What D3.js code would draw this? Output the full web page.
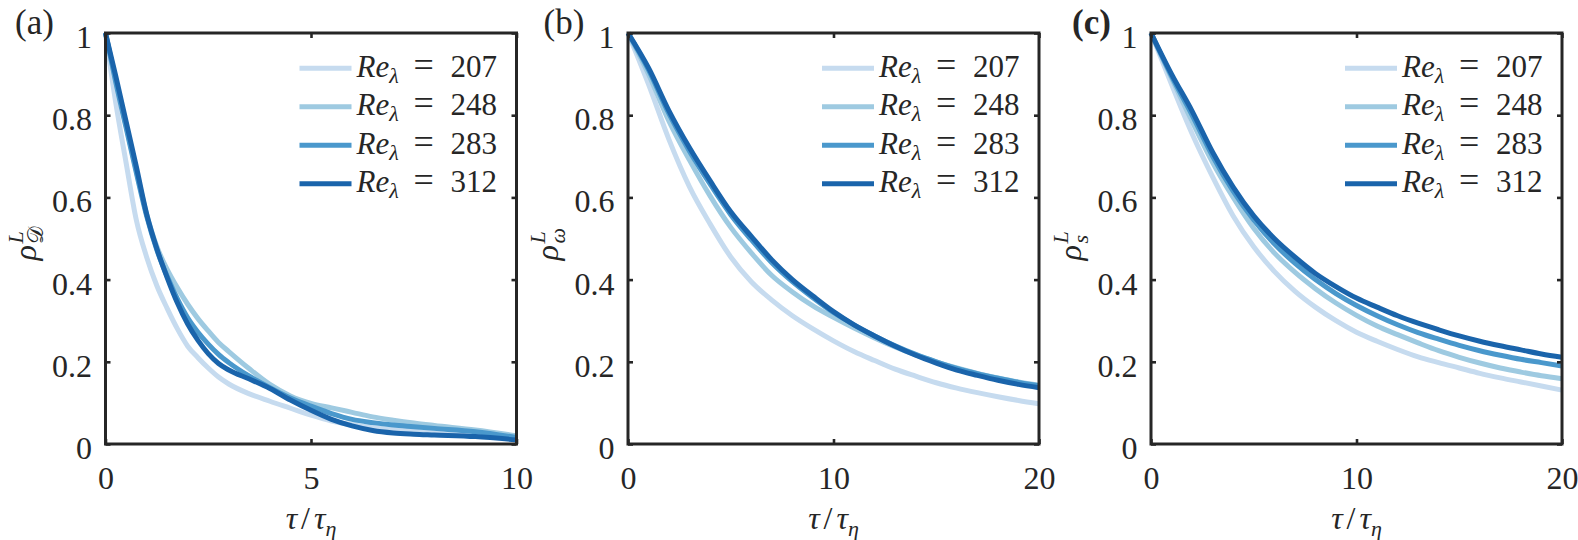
<!DOCTYPE html>
<html><head><meta charset="utf-8">
<script src="https://cdn.jsdelivr.net/npm/d3@7"></script>
<style>
body{margin:0;background:#fff;font-family:"Liberation Serif", serif;}
svg{display:block;}
svg text, svg tspan{font-family:"Liberation Serif", "Times New Roman", serif !important;}
</style>
</head><body>
<svg id="chart" width="1578" height="540" font-family="Liberation Serif"></svg>
<script>
// ---------- data ----------
const seriesNames = ["207", "248", "283", "312"];
const seriesColors = ["#c6dbef", "#9ecae1", "#4a98cc", "#1a64ab"];
const yTickValues = [0, 0.2, 0.4, 0.6, 0.8, 1];
const yTickLabels = ["0", "0.2", "0.4", "0.6", "0.8", "1"];
const xTicksA = [0, 5, 10];
const xTicksBC = [0, 10, 20];
const panelLetters = ["(a)", "(b)", "(c)"];
const yLabelSubs = ["𝒟", "ω", "s"];

// panel (a): rho_D^L
const tauA = [0,0.25,0.5,0.75,1,1.25,1.5,1.75,2,2.25,2.5,2.75,3,3.5,4,4.5,5,5.5,6,6.5,7,7.5,8,9,10];
const rhoD207 = [1,0.83,0.685,0.545,0.455,0.385,0.33,0.28,0.238,0.21,0.185,0.163,0.146,0.122,0.104,0.087,0.07,0.056,0.047,0.04,0.035,0.031,0.028,0.02,0.012];
const rhoD248 = [1,0.885,0.775,0.665,0.56,0.48,0.425,0.38,0.34,0.305,0.275,0.247,0.225,0.183,0.145,0.117,0.099,0.088,0.077,0.066,0.058,0.051,0.045,0.034,0.02];
const rhoD283 = [1,0.88,0.77,0.66,0.555,0.472,0.408,0.353,0.307,0.272,0.243,0.218,0.198,0.165,0.137,0.112,0.092,0.074,0.06,0.052,0.046,0.042,0.038,0.03,0.016];
const rhoD312 = [1,0.895,0.785,0.675,0.56,0.475,0.405,0.343,0.292,0.252,0.22,0.196,0.18,0.158,0.135,0.107,0.082,0.06,0.044,0.033,0.027,0.024,0.022,0.018,0.01];

// panels (b), (c): common time grid
const tauBC = [0,1,2,3,4,5,6,7,8,9,10,11,12,13,14,15,16,17,18,19,20];
// panel (b): rho_omega^L
const rhoW207 = [1,0.875,0.74,0.625,0.535,0.455,0.395,0.35,0.312,0.28,0.251,0.225,0.203,0.182,0.165,0.149,0.136,0.125,0.115,0.106,0.098];
const rhoW248 = [1,0.9,0.785,0.69,0.603,0.527,0.465,0.41,0.37,0.336,0.308,0.282,0.258,0.236,0.217,0.2,0.185,0.172,0.161,0.151,0.143];
const rhoW283 = [1,0.91,0.803,0.712,0.632,0.558,0.497,0.441,0.395,0.356,0.32,0.29,0.263,0.239,0.218,0.2,0.184,0.171,0.16,0.15,0.142];
const rhoW312 = [1,0.915,0.81,0.72,0.64,0.565,0.505,0.448,0.4,0.36,0.322,0.29,0.263,0.238,0.216,0.197,0.18,0.167,0.155,0.145,0.137];
// panel (c): rho_s^L
const rhoS207 = [1,0.875,0.755,0.65,0.555,0.48,0.42,0.372,0.333,0.3,0.272,0.25,0.23,0.212,0.198,0.185,0.172,0.161,0.151,0.141,0.131];
const rhoS248 = [1,0.89,0.785,0.685,0.6,0.525,0.465,0.418,0.378,0.343,0.313,0.287,0.266,0.246,0.227,0.211,0.197,0.185,0.175,0.166,0.159];
const rhoS283 = [1,0.895,0.8,0.7,0.615,0.545,0.487,0.44,0.4,0.366,0.337,0.312,0.29,0.271,0.255,0.24,0.227,0.216,0.206,0.198,0.19];
const rhoS312 = [1,0.9,0.81,0.71,0.625,0.555,0.5,0.455,0.415,0.383,0.355,0.333,0.312,0.294,0.278,0.263,0.25,0.239,0.229,0.219,0.211];

// ---------- layout ----------
const FONT = '"Liberation Serif", "Times New Roman", serif';
const panelLefts = [105.5, 628, 1151];
const letterX = [15, 543.5, 1072];
const plotTop = 33, plotW = 411, plotH = 411;
const axisColor = "#262626";

const panels = [
  {tau: tauA, xMax: 10, xTicks: xTicksA, series: [rhoD207, rhoD248, rhoD283, rhoD312]},
  {tau: tauBC, xMax: 20, xTicks: xTicksBC, series: [rhoW207, rhoW248, rhoW283, rhoW312]},
  {tau: tauBC, xMax: 20, xTicks: xTicksBC, series: [rhoS207, rhoS248, rhoS283, rhoS312]}
];

const svg = d3.select("#chart");

function serif(sel) {
  return sel.attr("font-family", "Liberation Serif").style("font-family", FONT, "important");
}
function mkText(parent, size, italic) {
  const t = serif(parent.append("text"))
    .style("font-size", size + "px")
    .attr("fill", axisColor);
  if (italic) t.style("font-style", "italic");
  return t;
}
function span(parent, str, opts = {}) {
  const s = serif(parent.append("tspan"));
  if (opts.italic) s.style("font-style", "italic");
  if (opts.size) s.style("font-size", opts.size + "px");
  if (opts.x != null) s.attr("x", opts.x);
  if (opts.dx != null) s.attr("dx", opts.dx);
  if (opts.dy != null) s.attr("dy", opts.dy);
  return s.text(str);
}

panels.forEach((p, pi) => {
  const left = panelLefts[pi];
  const g = svg.append("g").attr("transform", `translate(${left},${plotTop})`);
  const x = d3.scaleLinear().domain([0, p.xMax]).range([0, plotW]);
  const y = d3.scaleLinear().domain([0, 1]).range([plotH, 0]);

  const line = d3.line().x(d => x(d[0])).y(d => y(d[1])).curve(d3.curveMonotoneX);
  p.series.forEach((vals, si) => {
    g.append("path")
      .datum(p.tau.map((t, i) => [t, vals[i]]))
      .attr("d", line)
      .attr("fill", "none")
      .attr("stroke", seriesColors[si])
      .attr("stroke-width", 5)
      .attr("stroke-linejoin", "round");
  });

  const yAxis = d3.axisLeft(y).tickValues(yTickValues).tickFormat((d, i) => yTickLabels[i])
    .tickSizeInner(-5).tickSizeOuter(0).tickPadding(13.5);
  const yAxisR = d3.axisRight(y).tickValues(yTickValues).tickFormat("")
    .tickSizeInner(-5).tickSizeOuter(0);
  const xAxis = d3.axisBottom(x).tickValues(p.xTicks).tickFormat(d3.format("d"))
    .tickSizeInner(-5).tickSizeOuter(0).tickPadding(22.3);
  const xAxisT = d3.axisTop(x).tickValues(p.xTicks).tickFormat("")
    .tickSizeInner(-5).tickSizeOuter(0);

  const ga = [
    g.append("g").call(yAxis),
    g.append("g").attr("transform", `translate(${plotW},0)`).call(yAxisR),
    g.append("g").attr("transform", `translate(0,${plotH})`).call(xAxis),
    g.append("g").call(xAxisT)
  ];
  ga.forEach(a => {
    serif(a).attr("font-size", 32);
    a.select(".domain").remove();
    a.selectAll(".tick line").attr("stroke", axisColor).attr("stroke-width", 2.6);
    serif(a.selectAll(".tick text")).attr("fill", axisColor).style("font-size", "32px");
  });
  ga[0].selectAll(".tick text").attr("dy", "0.45em");
  ga[2].selectAll(".tick text").attr("dy", "0.71em");

  g.append("rect").attr("x", 0).attr("y", 0).attr("width", plotW).attr("height", plotH)
    .attr("fill", "none").attr("stroke", axisColor).attr("stroke-width", 3);

  // legend
  seriesNames.forEach((name, si) => {
    const ly = 35.3 + 38.5 * si;
    g.append("line").attr("x1", 194).attr("x2", 246).attr("y1", ly).attr("y2", ly)
      .attr("stroke", seriesColors[si]).attr("stroke-width", 5);
    const lx = 251;
    const t = mkText(g, 31, false).attr("x", lx).attr("y", ly + 8.4);
    span(t, "Re", {italic: true});
    span(t, "λ", {italic: true, size: 22, dy: 6});
    span(t, "=", {x: lx + 57, dy: -6, size: 36});
    span(t, name, {x: lx + 94});
  });

  // y label
  const yl = svg.append("g").attr("transform", `translate(${left - 70},${plotTop + plotH / 2}) rotate(-90)`);
  mkText(yl, 32, true).attr("x", -22).attr("y", 0).text("ρ");
  mkText(yl, 22, true).attr("x", -5).attr("y", -13).text("L");
  mkText(yl, 22, pi !== 0).attr("x", -5).attr("y", 7).text(yLabelSubs[pi]);

  // x label
  const xl = mkText(svg, 32, false).attr("x", left + plotW / 2).attr("y", 529).attr("text-anchor", "middle");
  span(xl, "τ", {italic: true});
  span(xl, "/", {dx: 4});
  span(xl, "τ", {italic: true, dx: 4});
  span(xl, "η", {italic: true, size: 22, dy: 7});

  // panel letter
  mkText(svg, 35, false).attr("x", letterX[pi]).attr("y", 34)
    .style("font-weight", pi === 2 ? "bold" : "normal").text(panelLetters[pi]);
});
</script>
</body></html>
